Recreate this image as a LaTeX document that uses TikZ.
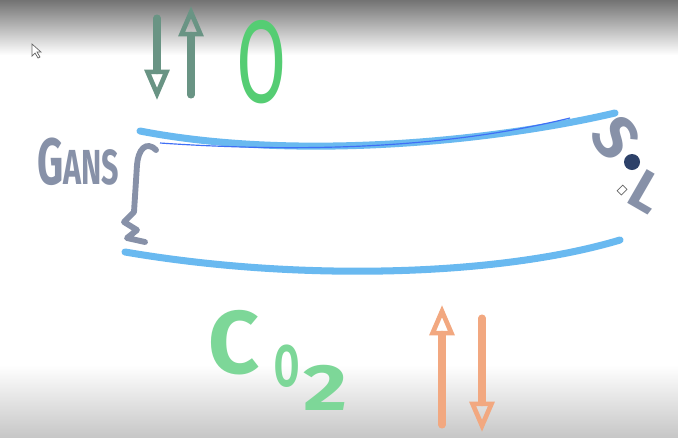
\documentclass[tikz,border=0pt]{standalone}
\usepackage{fontspec}
\setmainfont{Fira Sans}
\usetikzlibrary{arrows.meta,positioning}

\definecolor{tubeblue}{RGB}{105,185,240}
\definecolor{slate}{RGB}{135,145,168}
\definecolor{darkgreen}{RGB}{105,148,132}
\definecolor{oxygreen}{RGB}{85,205,115}
\definecolor{cogreen}{RGB}{125,215,152}
\definecolor{peach}{RGB}{242,168,128}
\definecolor{inkblue}{RGB}{45,65,105}

\begin{document}
\begin{tikzpicture}[x=0.03cm, y=-0.03cm,
  pen/.style={line width=6pt, line cap=round, line join=round},
  head/.style={-{Triangle[open, length=26pt, width=21pt, line width=4pt]}},
  handtext/.style={inner sep=0pt, font=\bfseries}]
  \useasboundingbox (0,0) rectangle (678,437);
  % screen shading
  \fill[white] (0,0) rectangle (678,437);
  \shade[top color=black!55, bottom color=white] (0,0) rectangle (678,55);
  \shade[top color=white, bottom color=black!22] (0,365) rectangle (678,437);

  % tube walls
  \draw[pen, tubeblue] (140,131) .. controls (300,162) and (500,140) .. (615,113);
  \draw[tubeblue!60!blue, line width=1pt] (160,143) .. controls (350,156) and (480,140) .. (570,118);
  \draw[pen, tubeblue] (125,252) .. controls (300,282) and (500,276) .. (620,240);

  % left label with brace
  \node[handtext, slate, xscale=0.62] (gans) at (78,162)
    {\fontsize{56}{56}\selectfont G\fontsize{42}{42}\selectfont ANS};
  \draw[pen, slate, line width=5pt] (156,150) .. controls (146,140) and (138,150) .. (137,165)
    -- (134,212) -- (124,222) -- (137,230) -- (127,238) -- (145,242);

  % top: O and its arrows
  \draw[pen, darkgreen, head] (157,18) -- (157,100);
  \draw[pen, darkgreen, head] (191,95) -- (191,6);
  \node[handtext, oxygreen, xscale=0.62, font=\mdseries] (oxy) at (262,62)
    {\fontsize{100}{100}\selectfont O};

  % bottom: CO2 and its arrows
  \node[handtext, cogreen] (co2c) at (234,343) {\fontsize{76}{76}\selectfont C};
  \node[handtext, cogreen, xscale=0.62] (co2o) at (287,366) {\fontsize{50}{50}\selectfont O};
  \node[handtext, cogreen, xscale=1.3] (co2n) at (326,388) {\fontsize{56}{56}\selectfont 2};
  \draw[pen, peach, head] (442,425) -- (442,305);
  \draw[pen, peach, head] (482,318) -- (482,432);

  % right label
  \node[handtext, slate, rotate=-55] (sl1) at (616,138) {\fontsize{52}{52}\selectfont S};
  \node[handtext, slate, rotate=-30] (sl2) at (647,192) {\fontsize{48}{48}\selectfont L};
  \fill[inkblue] (632,162) circle (8);

  % screen pointers
  \draw[black!60, line width=0.6pt, fill=white] (32,44) -- (32,56) -- (35,53) -- (38,58)
    -- (40,57) -- (37,52) -- (41,52) -- cycle;
  \draw[black!60, line width=0.6pt, fill=white, rotate around={45:(622,190)}]
    (618,187) rectangle (626,193);
\end{tikzpicture}
\end{document}
